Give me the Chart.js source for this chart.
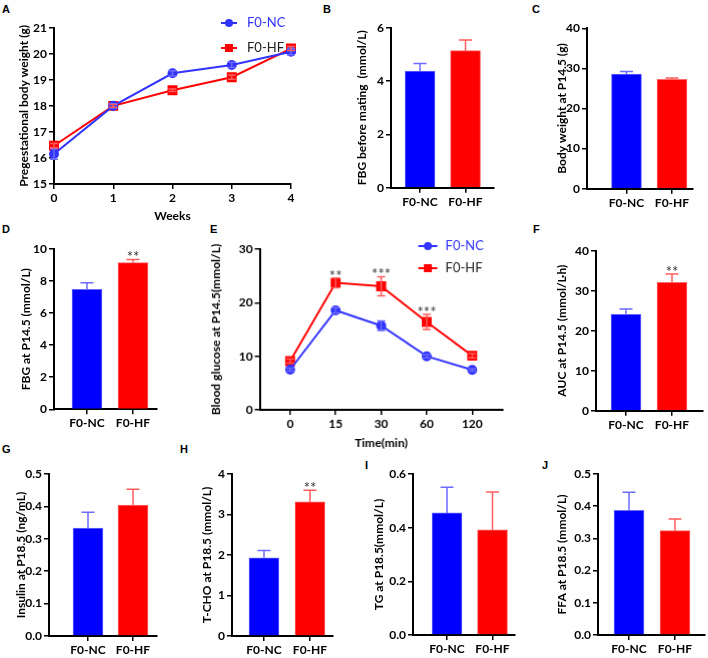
<!DOCTYPE html>
<html>
<head>
<meta charset="utf-8">
<script src="https://cdn.jsdelivr.net/npm/chart.js@4.4.1/dist/chart.umd.min.js"></script>
<style>
    html, body { margin: 0; padding: 0; background: #fff; }
    #page { position: relative; width: 708px; height: 658px; overflow: hidden; }
    .panel { position: absolute; }
    .tag { position: absolute; font: bold 11px "Liberation Sans", Arial, sans-serif; color: #000; }
</style>
</head>
<body>
<div id="page">
    <div class="tag" style="left:2px;top:3px">A</div>
    <div class="tag" style="left:323px;top:3px">B</div>
    <div class="tag" style="left:532px;top:3px">C</div>
    <div class="tag" style="left:2px;top:223px">D</div>
    <div class="tag" style="left:210px;top:223px">E</div>
    <div class="tag" style="left:533px;top:223px">F</div>
    <div class="tag" style="left:2px;top:443px">G</div>
    <div class="tag" style="left:180px;top:443px">H</div>
    <div class="tag" style="left:365px;top:459px">I</div>
    <div class="tag" style="left:542px;top:459px">J</div>
</div>
<script>
// ---- data ----
const groups = ['F0-NC', 'F0-HF'];

const weeks = ['0', '1', '2', '3', '4'];
const weightNC = [16.15, 18.0, 19.25, 19.57, 20.08];
const weightNCErr = [0.2, 0.08, 0.1, 0.1, 0.12];
const weightHF = [16.47, 18.0, 18.6, 19.1, 20.2];
const weightHFErr = [0.08, 0.05, 0.05, 0.08, 0.08];

const fbgMating = [4.37, 5.14];
const fbgMatingErr = [0.29, 0.4];

const bodyWeight145 = [28.6, 27.3];
const bodyWeight145Err = [0.6, 0.3];

const fbg145 = [7.48, 9.15];
const fbg145Err = [0.42, 0.2];
const fbg145Stars = ['', '**'];

const timePoints = ['0', '15', '30', '60', '120'];
const glucoseNC = [7.5, 18.56, 15.7, 10.0, 7.44];
const glucoseNCErr = [0.3, 0.5, 0.9, 0.3, 0.2];
const glucoseHF = [9.1, 23.7, 23.06, 16.4, 10.1];
const glucoseHFErr = [0.4, 0.9, 1.8, 1.4, 0.4];
const glucoseStars = ['', '**', '***', '***', ''];

const auc145 = [24.1, 32.1];
const auc145Err = [1.3, 2.1];
const auc145Stars = ['', '**'];

const insulin185 = [0.333, 0.404];
const insulin185Err = [0.049, 0.049];

const tcho185 = [1.93, 3.31];
const tcho185Err = [0.18, 0.29];
const tcho185Stars = ['', '**'];

const tg185 = [0.455, 0.392];
const tg185Err = [0.096, 0.141];

const ffa185 = [0.387, 0.324];
const ffa185Err = [0.056, 0.036];

// ---- styles ----
const FONT = 'Lato, "Open Sans", sans-serif';
const BLUE = '#0000ff', RED = '#ff0000';
const LINE_BLUE = '#3333ff';
const ERR_BLUE = '#6b6bff', ERR_RED = '#ff5c5c';

// error bars + significance stars, drawn from the y scale
const errorBars = {
    id: 'errorBars',
    afterDatasetsDraw(chart) {
        const ctx = chart.ctx;
        const yScale = chart.scales.y;
        chart.data.datasets.forEach((ds, di) => {
            if (!ds.errors) return;
            const meta = chart.getDatasetMeta(di);
            meta.data.forEach((el, i) => {
                const d = ds.data[i];
                const v = typeof d === 'object' ? d.y : d;
                const e = ds.errors[i];
                const color = Array.isArray(ds.errorColor) ? ds.errorColor[i] : ds.errorColor;
                const yTop = yScale.getPixelForValue(v + e);
                const yBot = ds.errorBoth ? yScale.getPixelForValue(v - e) : yScale.getPixelForValue(v);
                const cap = ds.capWidth / 2;
                ctx.save();
                ctx.strokeStyle = color;
                ctx.lineWidth = 1.5;
                ctx.beginPath();
                ctx.moveTo(el.x, yTop);
                ctx.lineTo(el.x, yBot);
                ctx.moveTo(el.x - cap, yTop);
                ctx.lineTo(el.x + cap, yTop);
                if (ds.errorBoth) {
                    ctx.moveTo(el.x - cap, yBot);
                    ctx.lineTo(el.x + cap, yBot);
                }
                ctx.stroke();
                if (ds.stars && ds.stars[i]) {
                    ctx.fillStyle = '#333';
                    ctx.font = '15px ' + FONT;
                    ctx.textAlign = 'center';
                    ctx.textBaseline = 'alphabetic';
                    ctx.fillText(ds.stars[i], el.x, yTop + 3);
                }
                ctx.restore();
            });
        });
    }
};

// small legend placed inside the plot like the original
const miniLegend = {
    id: 'miniLegend',
    afterDraw(chart, args, opts) {
        if (opts.x === undefined) return;
        const ctx = chart.ctx;
        chart.data.datasets.forEach((ds, i) => {
            const y = opts.y + i * opts.gap;
            const mx = opts.x + opts.len / 2;
            ctx.save();
            ctx.strokeStyle = ds.borderColor;
            ctx.lineWidth = 2;
            ctx.beginPath();
            ctx.moveTo(opts.x, y);
            ctx.lineTo(opts.x + opts.len, y);
            ctx.stroke();
            ctx.fillStyle = ds.pointBackgroundColor;
            if (ds.pointStyle === 'rect') {
                ctx.fillRect(mx - 4, y - 4, 8, 8);
            } else {
                ctx.beginPath();
                ctx.arc(mx, y, 4, 0, Math.PI * 2);
                ctx.fill();
            }
            ctx.fillStyle = ds.legendColor;
            ctx.font = '13px ' + FONT;
            ctx.textAlign = 'left';
            ctx.textBaseline = 'middle';
            ctx.fillText(ds.label, opts.x + opts.len + opts.textGap, y);
            ctx.restore();
        });
    }
};

Chart.register(errorBars, miniLegend);

const page = document.getElementById('page');

function addCanvas(g) {
    const div = document.createElement('div');
    div.className = 'panel';
    div.style.left = g.left + 'px';
    div.style.top = g.top + 'px';
    div.style.width = (g.right - g.left) + 'px';
    div.style.height = (g.bottom - g.top) + 'px';
    const c = document.createElement('canvas');
    div.appendChild(c);
    page.appendChild(div);
    return c;
}

function layoutFor(g) {
    return { padding: { top: g.pt - g.top, right: g.right - g.pr, bottom: 0, left: 0 } };
}

function yAxis(g, min, max, step, decimals, title) {
    return {
        min: min,
        max: max,
        ticks: {
            stepSize: step,
            color: '#000',
            padding: 2,
            font: { family: FONT, size: 12, weight: 'bold' },
            callback: v => Number(v).toFixed(decimals)
        },
        grid: { drawOnChartArea: false, drawTicks: true, tickLength: 5, color: '#000', lineWidth: 1.5 },
        border: { color: '#000', width: 2 },
        title: { display: true, text: title, color: '#000', padding: 0, font: { family: FONT, size: 12, weight: 'bold' } },
        afterFit: s => { s.width = g.pl - g.left; }
    };
}

function xAxisIndexed(g, labels, min, max, title) {
    const axis = {
        type: 'linear',
        offset: false,
        min: min,
        max: max,
        afterBuildTicks: s => { s.ticks = labels.map((_, i) => ({ value: i })); },
        ticks: {
            color: '#000',
            padding: 2,
            autoSkip: false,
            maxRotation: 0,
            font: { family: FONT, size: 12, weight: 'bold' },
            callback: v => labels[v]
        },
        grid: { offset: false, drawOnChartArea: false, drawTicks: true, tickLength: 5, color: '#000', lineWidth: 1.5 },
        border: { color: '#000', width: 2 },
        afterFit: s => { s.height = g.bottom - g.pb; }
    };
    if (title) {
        axis.title = { display: true, text: title, color: '#000', padding: 0, font: { family: FONT, size: 12, weight: 'bold' } };
    }
    return axis;
}

function barPanel(g, values, errors, stars, yMin, yMax, step, decimals, title) {
    const unit = g.cHF - g.cNC;
    new Chart(addCanvas(g), {
        type: 'bar',
        data: {
            datasets: [{
                data: values.map((v, i) => ({ x: i, y: v })),
                backgroundColor: [BLUE, RED],
                borderColor: ['#6a6aff', '#ff6a6a'],
                borderWidth: 1,
                barThickness: 30,
                errors: errors,
                errorColor: [ERR_BLUE, ERR_RED],
                capWidth: 13,
                stars: stars
            }]
        },
        options: {
            responsive: true,
            maintainAspectRatio: false,
            animation: false,
            layout: layoutFor(g),
            plugins: { legend: { display: false }, tooltip: { enabled: false } },
            scales: {
                x: xAxisIndexed(g, groups, -(g.cNC - g.pl) / unit, 1 + (g.pr - g.cHF) / unit),
                y: yAxis(g, yMin, yMax, step, decimals, title)
            }
        }
    });
}

function lineSet(label, color, errColor, legendColor, style, data, errors, stars) {
    return {
        label: label,
        data: data,
        borderColor: color,
        backgroundColor: color,
        pointBackgroundColor: color,
        pointBorderColor: color,
        pointStyle: style,
        pointRadius: style === 'rect' ? 5.6 : 4,
        borderWidth: 2,
        tension: 0,
        clip: false,
        errors: errors,
        errorColor: errColor,
        errorBoth: true,
        capWidth: 8,
        stars: stars,
        legendColor: legendColor
    };
}

// ---- A: pregestational body weight ----
const gA = { left: 17, top: 5, right: 300, bottom: 223, pl: 54, pt: 27.7, pr: 291, pb: 184 };
new Chart(addCanvas(gA), {
    type: 'line',
    data: {
        labels: weeks,
        datasets: [
            lineSet('F0-NC', LINE_BLUE, ERR_BLUE, LINE_BLUE, 'circle', weightNC, weightNCErr),
            lineSet('F0-HF', RED, ERR_RED, '#222', 'rect', weightHF, weightHFErr)
        ]
    },
    options: {
        responsive: true,
        maintainAspectRatio: false,
        animation: false,
        layout: layoutFor(gA),
        plugins: {
            legend: { display: false },
            tooltip: { enabled: false },
            miniLegend: { x: 221 - gA.left, y: 23 - gA.top, len: 16, gap: 25, textGap: 10 }
        },
        scales: {
            x: {
                type: 'category',
                offset: false,
                ticks: { color: '#000', padding: 2, maxRotation: 0, font: { family: FONT, size: 12, weight: 'bold' } },
                grid: { drawOnChartArea: false, drawTicks: true, tickLength: 5, color: '#000', lineWidth: 1.5, offset: false },
                border: { color: '#000', width: 2 },
                title: { display: true, text: 'Weeks', color: '#000', padding: 0, font: { family: FONT, size: 12, weight: 'bold' } },
                afterFit: s => { s.height = gA.bottom - gA.pb; }
            },
            y: yAxis(gA, 15, 21, 1, 0, 'Pregestational body weight (g)')
        }
    }
});

// ---- B, C, D ----
barPanel({ left: 355, top: 15, right: 500, bottom: 212, pl: 391, pt: 27.7, pr: 494, pb: 187.7, cNC: 420, cHF: 465.5 },
    fbgMating, fbgMatingErr, null, 0, 6, 2, 0, 'FBG before mating  (mmol/L)');
barPanel({ left: 555, top: 15, right: 706, bottom: 213, pl: 587, pt: 28.3, pr: 693, pb: 188.7, cNC: 626.5, cHF: 672 },
    bodyWeight145, bodyWeight145Err, null, 0, 40, 10, 0, 'Body weight at P14.5 (g)');
barPanel({ left: 19, top: 238, right: 170, bottom: 433, pl: 54, pt: 249, pr: 157, pb: 409.3, cNC: 87, cHF: 133 },
    fbg145, fbg145Err, fbg145Stars, 0, 10, 2, 0, 'FBG at P14.5 (mmol/L)');

// ---- E: glucose tolerance ----
const gE = { left: 209.4, top: 235, right: 515, bottom: 449.6, pl: 260, pt: 249, pr: 502, pb: 409 };
new Chart(addCanvas(gE), {
    type: 'line',
    data: {
        datasets: [
            lineSet('F0-NC', LINE_BLUE, ERR_BLUE, LINE_BLUE, 'circle', glucoseNC.map((v, i) => ({ x: i, y: v })), glucoseNCErr),
            lineSet('F0-HF', RED, ERR_RED, '#222', 'rect', glucoseHF.map((v, i) => ({ x: i, y: v })), glucoseHFErr, glucoseStars)
        ]
    },
    options: {
        responsive: true,
        maintainAspectRatio: false,
        animation: false,
        layout: layoutFor(gE),
        plugins: {
            legend: { display: false },
            tooltip: { enabled: false },
            miniLegend: { x: 418 - gE.left, y: 246 - gE.top, len: 19, gap: 22, textGap: 8 }
        },
        scales: {
            x: xAxisIndexed(gE, timePoints, -0.667, 4.667, 'Time(min)'),
            y: yAxis(gE, 0, 30, 10, 0, 'Blood glucose at P14.5(mmol/L)')
        }
    }
});

// ---- F, G, H, I, J ----
barPanel({ left: 555, top: 238, right: 708, bottom: 435, pl: 596, pt: 250.7, pr: 703, pb: 410.7, cNC: 626, cHF: 672 },
    auc145, auc145Err, auc145Stars, 0, 40, 10, 0, 'AUC at P14.5 (mmol/L·h)');
barPanel({ left: 14, top: 462, right: 170, bottom: 658, pl: 49, pt: 474, pr: 157, pb: 636, cNC: 88, cHF: 133 },
    insulin185, insulin185Err, null, 0, 0.5, 0.1, 1, 'Insulin at P18.5 (ng/mL)');
barPanel({ left: 200, top: 462, right: 345, bottom: 658, pl: 232, pt: 474, pr: 333, pb: 636, cNC: 264, cHF: 310 },
    tcho185, tcho185Err, tcho185Stars, 0, 4, 1, 0, 'T-CHO at P18.5 (mmol/L)');
barPanel({ left: 372, top: 462, right: 525, bottom: 658, pl: 413, pt: 474, pr: 515, pb: 635, cNC: 447, cHF: 492.5 },
    tg185, tg185Err, null, 0, 0.6, 0.2, 1, 'TG at P18.5(mmol/L)');
barPanel({ left: 555, top: 462, right: 708, bottom: 658, pl: 598, pt: 474, pr: 705, pb: 635, cNC: 629, cHF: 675 },
    ffa185, ffa185Err, null, 0, 0.5, 0.1, 1, 'FFA at P18.5 (mmol/L)');
</script>
</body>
</html>
